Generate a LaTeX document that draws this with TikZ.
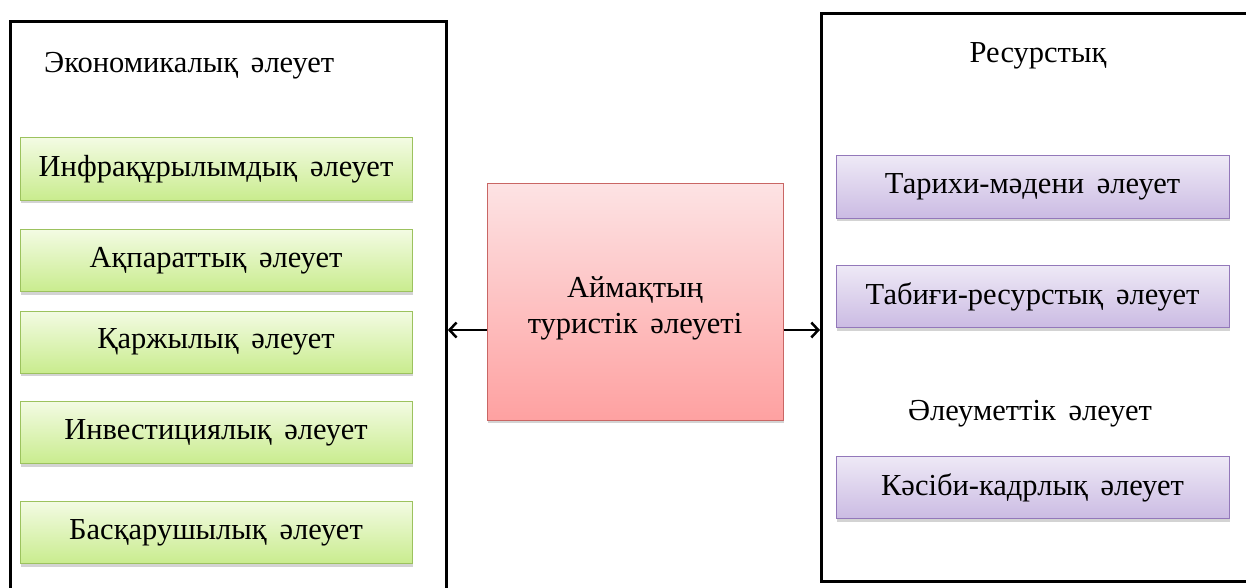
\documentclass[tikz,border=0pt]{standalone}
\usepackage{fontspec}
\setmainfont{Liberation Serif}
\usetikzlibrary{arrows.meta,shadows,calc}
\newcommand{\wsp}{\hspace{0.42em}}
\begin{document}
\begin{tikzpicture}[x=1pt,y=-1pt,
  every node/.style={font=\fontsize{30.5}{36}\selectfont, inner sep=0pt},
  outer/.style={draw=black, line width=2.8pt, anchor=north west},
  gbox/.style={draw=gborder, line width=1pt, top color=gtop, bottom color=gbot,
    minimum width=392pt, minimum height=62pt, drop shadow={shadow xshift=1pt, shadow yshift=-3pt, opacity=0.35}},
  pbox/.style={draw=pborder, line width=1pt, top color=ptop, bottom color=pbot,
    minimum width=393pt, minimum height=62pt, drop shadow={shadow xshift=1pt, shadow yshift=-3pt, opacity=0.35}},
  rbox/.style={draw=rborder, line width=1pt, top color=rtop, bottom color=rbot,
    minimum width=296pt, minimum height=237pt, drop shadow={shadow xshift=1pt, shadow yshift=-3pt, opacity=0.35}},
  conn/.style={line width=2.8pt, -{Straight Barb[length=7pt,width=15pt,line width=2.5pt]}}
]
\definecolor{gtop}{HTML}{F3FBE3}
\definecolor{gbot}{HTML}{C9EC8E}
\definecolor{gborder}{HTML}{9CC25E}
\definecolor{ptop}{HTML}{EEE9F6}
\definecolor{pbot}{HTML}{CBBBE3}
\definecolor{pborder}{HTML}{9378BA}
\definecolor{rtop}{HTML}{FDE3E4}
\definecolor{rbot}{HTML}{FEA1A1}
\definecolor{rborder}{HTML}{C96664}
\useasboundingbox (0,0) rectangle (1246,588);
\clip (0,0) rectangle (1246,588);
\node[outer, minimum width=436pt, minimum height=600pt] (L) at (9,20) {};
\node[outer, minimum width=450pt, minimum height=568pt] (R) at (820,12) {};
\node[anchor=west] (lt) at (44,66) {Экономикалық\wsp әлеует};
\node (rt) at (1038,56) {Ресурстық};
\node (st) at (1030,414) {Әлеуметтік\wsp әлеует};
\node[gbox] (g1) at (216,169) {Инфрақұрылымдық\wsp әлеует};
\node[gbox] (g2) at (216,260.5) {Ақпараттық\wsp әлеует};
\node[gbox] (g3) at (216,342) {Қаржылық\wsp әлеует};
\node[gbox] (g4) at (216,432.5) {Инвестициялық\wsp әлеует};
\node[gbox] (g5) at (216,532.5) {Басқарушылық\wsp әлеует};
\node[pbox] (p1) at (1032.5,187) {Тарихи-мәдени\wsp әлеует};
\node[pbox] (p2) at (1032.5,296.5) {Табиғи-ресурстық\wsp әлеует};
\node[pbox] (p3) at (1032.5,487.5) {Кәсіби-кадрлық\wsp әлеует};
\node[rbox] (c) at (635,301.5) {};
\node[align=center] (ct) at ($(c.center)+(0,7)$) {Аймақтың\\туристік\wsp әлеуеті};
\coordinate (ay) at (0,330);
\draw[conn] (c.west |- ay) -- (L.east |- ay);
\draw[conn] (c.east |- ay) -- (R.west |- ay);
\end{tikzpicture}
\end{document}
